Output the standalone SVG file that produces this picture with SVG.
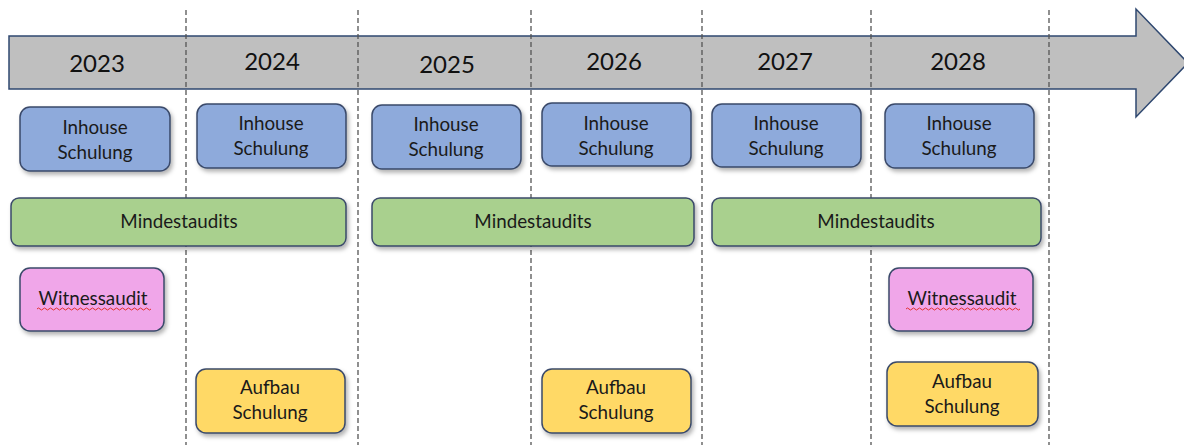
<svg xmlns="http://www.w3.org/2000/svg" width="1184" height="445" viewBox="0 0 1184 445">
<defs>
<filter id="sh" x="-10%" y="-10%" width="130%" height="140%">
<feDropShadow dx="2" dy="3" stdDeviation="2" flood-color="#000" flood-opacity="0.3"/>
</filter>
<style>
.box{stroke:#3a4a6a;stroke-width:1.5;filter:url(#sh)}
.blue{fill:#8eaadb}.green{fill:#a9d08e}.pink{fill:#f0a6e9}.yellow{fill:#ffd966}
.t{font-family:Lato,"Open Sans",sans-serif;font-size:18.8px;fill:#1a1a1a;text-anchor:middle}
.yr{font-family:Lato,"Open Sans",sans-serif;font-size:24px;fill:#111;text-anchor:middle}
.dash{stroke:#555;stroke-width:1.3;stroke-dasharray:5 3;fill:none}
.wave{stroke:#e03030;stroke-width:1;fill:none}
</style>
</defs>
<rect width="1184" height="445" fill="#fff"/>
<g id="timeline">
<path d="M9,36 H1136 V9 L1188,63 L1136,117 V89 H9 Z" fill="#bfbfbf" stroke="#2f4870" stroke-width="1.5"/>
</g>
<g id="connectors">
<line class="dash" x1="186" y1="10" x2="186" y2="445"/>
<line class="dash" x1="358" y1="10" x2="358" y2="445"/>
<line class="dash" x1="531" y1="10" x2="531" y2="445"/>
<line class="dash" x1="702" y1="10" x2="702" y2="445"/>
<line class="dash" x1="871" y1="10" x2="871" y2="445"/>
<line class="dash" x1="1049" y1="10" x2="1049" y2="445"/>
</g>
<g id="years">
<text class="yr" x="97" y="72">2023</text>
<text class="yr" x="272" y="70">2024</text>
<text class="yr" x="447" y="73">2025</text>
<text class="yr" x="614" y="70">2026</text>
<text class="yr" x="785" y="70">2027</text>
<text class="yr" x="958" y="70">2028</text>
</g>
<g id="inhouse-2023"><rect class="box blue" x="20" y="107" width="150" height="64" rx="10"/><text class="t" x="95" y="134">Inhouse</text><text class="t" x="95" y="159">Schulung</text></g>
<g id="inhouse-2024"><rect class="box blue" x="197" y="104" width="149" height="64" rx="10"/><text class="t" x="271" y="130">Inhouse</text><text class="t" x="271" y="155">Schulung</text></g>
<g id="inhouse-2025"><rect class="box blue" x="372" y="105" width="149" height="64" rx="10"/><text class="t" x="446" y="131">Inhouse</text><text class="t" x="446" y="156">Schulung</text></g>
<g id="inhouse-2026"><rect class="box blue" x="542" y="103" width="149" height="63" rx="10"/><text class="t" x="616" y="130">Inhouse</text><text class="t" x="616" y="155">Schulung</text></g>
<g id="inhouse-2027"><rect class="box blue" x="712" y="104" width="149" height="63" rx="10"/><text class="t" x="786" y="130">Inhouse</text><text class="t" x="786" y="155">Schulung</text></g>
<g id="inhouse-2028"><rect class="box blue" x="885" y="104" width="149" height="64" rx="10"/><text class="t" x="959" y="130">Inhouse</text><text class="t" x="959" y="155">Schulung</text></g>
<g id="mindest-1"><rect class="box green" x="11" y="198" width="335" height="48" rx="8"/><text class="t" x="179" y="228">Mindestaudits</text></g>
<g id="mindest-2"><rect class="box green" x="372" y="198" width="322" height="48" rx="8"/><text class="t" x="533" y="228">Mindestaudits</text></g>
<g id="mindest-3"><rect class="box green" x="712" y="198" width="329" height="48" rx="8"/><text class="t" x="876" y="228">Mindestaudits</text></g>
<g id="witness-2023"><rect class="box pink" x="20" y="268" width="144" height="63" rx="10"/><text class="t" x="93" y="305">Witnessaudit</text><path class="wave" d="M37,309 q1.5,-2 3,0 t3,0 t3,0 t3,0 t3,0 t3,0 t3,0 t3,0 t3,0 t3,0 t3,0 t3,0 t3,0 t3,0 t3,0 t3,0 t3,0 t3,0 t3,0 t3,0 t3,0 t3,0 t3,0 t3,0 t3,0 t3,0 t3,0 t3,0 t3,0 t3,0 t3,0 t3,0 t3,0 t3,0 t3,0 t3,0 t3,0 t3,0"/></g>
<g id="witness-2028"><rect class="box pink" x="889" y="268" width="144" height="63" rx="10"/><text class="t" x="962" y="305">Witnessaudit</text><path class="wave" d="M906,309 q1.5,-2 3,0 t3,0 t3,0 t3,0 t3,0 t3,0 t3,0 t3,0 t3,0 t3,0 t3,0 t3,0 t3,0 t3,0 t3,0 t3,0 t3,0 t3,0 t3,0 t3,0 t3,0 t3,0 t3,0 t3,0 t3,0 t3,0 t3,0 t3,0 t3,0 t3,0 t3,0 t3,0 t3,0 t3,0 t3,0 t3,0 t3,0 t3,0"/></g>
<g id="aufbau-2024"><rect class="box yellow" x="196" y="369" width="149" height="64" rx="10"/><text class="t" x="270" y="394">Aufbau</text><text class="t" x="270" y="419">Schulung</text></g>
<g id="aufbau-2026"><rect class="box yellow" x="542" y="369" width="149" height="64" rx="10"/><text class="t" x="616" y="394">Aufbau</text><text class="t" x="616" y="419">Schulung</text></g>
<g id="aufbau-2028"><rect class="box yellow" x="887" y="362" width="151" height="64" rx="10"/><text class="t" x="962" y="388">Aufbau</text><text class="t" x="962" y="413">Schulung</text></g>
</svg>
